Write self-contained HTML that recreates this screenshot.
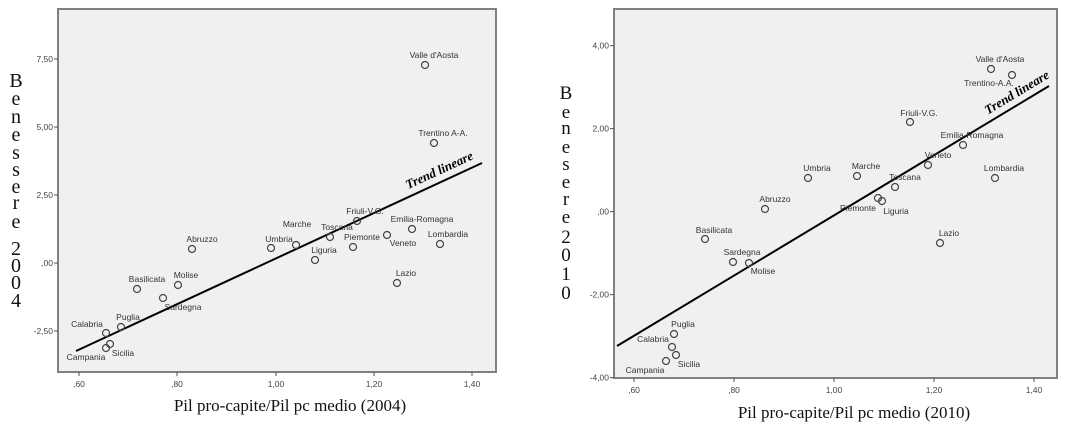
<!DOCTYPE html>
<html><head><meta charset="utf-8"><style>
html,body{margin:0;padding:0;background:#fff;}
svg{display:block;}
.t{font-family:"Liberation Sans",sans-serif;font-size:8.5px;fill:#444;}
.l{font-family:"Liberation Sans",sans-serif;font-size:8.5px;fill:#333;text-anchor:middle;}
.ax{font-family:"Liberation Serif",serif;font-size:17px;fill:#111;text-anchor:middle;}
.yl{font-family:"Liberation Serif",serif;font-size:20px;fill:#111;text-anchor:middle;}
.yr{font-family:"Liberation Serif",serif;font-size:19px;fill:#111;text-anchor:middle;}
.tr{font-family:"Liberation Serif",serif;font-size:13px;font-weight:bold;font-style:italic;fill:#000;text-anchor:middle;}
circle{fill:none;stroke:#444;stroke-width:1.2;}
</style></head><body>
<svg width="1092" height="428" viewBox="0 0 1092 428">
<!-- LEFT -->
<rect x="58" y="9" width="438" height="363" fill="#f0f0f0" stroke="#808080" stroke-width="2"/>
<g stroke="#555" stroke-width="1">
<line x1="54" y1="59" x2="58" y2="59"/><line x1="54" y1="127" x2="58" y2="127"/><line x1="54" y1="195" x2="58" y2="195"/><line x1="54" y1="263" x2="58" y2="263"/><line x1="54" y1="331" x2="58" y2="331"/>
<line x1="79" y1="372" x2="79" y2="376"/><line x1="177" y1="372" x2="177" y2="376"/><line x1="276" y1="372" x2="276" y2="376"/><line x1="374" y1="372" x2="374" y2="376"/><line x1="472" y1="372" x2="472" y2="376"/>
</g>
<g class="t" text-anchor="end">
<text x="53" y="62">7,50</text><text x="53" y="130">5,00</text><text x="53" y="198">2,50</text><text x="53" y="266">,00</text><text x="53" y="334">-2,50</text>
</g>
<g class="t" text-anchor="middle">
<text x="79" y="387">,60</text><text x="177" y="387">,80</text><text x="276" y="387">1,00</text><text x="374" y="387">1,20</text><text x="472" y="387">1,40</text>
</g>
<text class="ax" x="290" y="411">Pil pro-capite/Pil pc medio (2004)</text>
<g class="yl">
<text x="16" y="87">B</text><text x="16" y="105">e</text><text x="16" y="123">n</text><text x="16" y="141">e</text><text x="16" y="159">s</text><text x="16" y="176">s</text><text x="16" y="193">e</text><text x="16" y="209">r</text><text x="16" y="228">e</text><text x="16" y="255">2</text><text x="16" y="272">0</text><text x="16" y="289">0</text><text x="16" y="307">4</text>
</g>
<line x1="76" y1="351" x2="482" y2="163" stroke="#000" stroke-width="2"/>
<text class="tr" transform="translate(441,174) rotate(-24.8)">Trend lineare</text>
<g>
<circle cx="425" cy="65" r="3.5"/><circle cx="434" cy="143" r="3.5"/><circle cx="357" cy="221" r="3.5"/><circle cx="412" cy="229" r="3.5"/><circle cx="330" cy="237" r="3.5"/><circle cx="296" cy="245" r="3.5"/><circle cx="271" cy="248" r="3.5"/><circle cx="353" cy="247" r="3.5"/><circle cx="387" cy="235" r="3.5"/><circle cx="440" cy="244" r="3.5"/><circle cx="315" cy="260" r="3.5"/><circle cx="192" cy="249" r="3.5"/><circle cx="397" cy="283" r="3.5"/><circle cx="137" cy="289" r="3.5"/><circle cx="178" cy="285" r="3.5"/><circle cx="163" cy="298" r="3.5"/><circle cx="121" cy="327" r="3.5"/><circle cx="106" cy="333" r="3.5"/><circle cx="110" cy="344" r="3.5"/><circle cx="106" cy="348" r="3.5"/>
</g>
<g class="l">
<text x="434" y="58">Valle d'Aosta</text><text x="443" y="136">Trentino A-A.</text><text x="365" y="214">Friuli-V.G.</text><text x="422" y="222">Emilia-Romagna</text><text x="337" y="230">Toscana</text><text x="297" y="227">Marche</text><text x="279" y="242">Umbria</text><text x="362" y="240">Piemonte</text><text x="403" y="246">Veneto</text><text x="448" y="237">Lombardia</text><text x="324" y="253">Liguria</text><text x="202" y="242">Abruzzo</text><text x="406" y="276">Lazio</text><text x="147" y="282">Basilicata</text><text x="186" y="278">Molise</text><text x="183" y="310">Sardegna</text><text x="128" y="320">Puglia</text><text x="87" y="327">Calabria</text><text x="123" y="356">Sicilia</text><text x="86" y="360">Campania</text>
</g>
<!-- RIGHT -->
<rect x="614" y="9" width="443" height="369" fill="#f0f0f0" stroke="#808080" stroke-width="2"/>
<g stroke="#555" stroke-width="1">
<line x1="610" y1="45.6" x2="614" y2="45.6"/><line x1="610" y1="128.6" x2="614" y2="128.6"/><line x1="610" y1="211.6" x2="614" y2="211.6"/><line x1="610" y1="294.6" x2="614" y2="294.6"/><line x1="610" y1="377.6" x2="614" y2="377.6"/>
<line x1="634" y1="378" x2="634" y2="382"/><line x1="734" y1="378" x2="734" y2="382"/><line x1="834" y1="378" x2="834" y2="382"/><line x1="934" y1="378" x2="934" y2="382"/><line x1="1034" y1="378" x2="1034" y2="382"/>
</g>
<g class="t" text-anchor="end">
<text x="609" y="48.6">4,00</text><text x="609" y="131.6">2,00</text><text x="609" y="214.6">,00</text><text x="609" y="297.6">-2,00</text><text x="609" y="380.6">-4,00</text>
</g>
<g class="t" text-anchor="middle">
<text x="634" y="393">,60</text><text x="734" y="393">,80</text><text x="834" y="393">1,00</text><text x="934" y="393">1,20</text><text x="1034" y="393">1,40</text>
</g>
<text class="ax" x="854" y="418">Pil pro-capite/Pil pc medio (2010)</text>
<g class="yr">
<text x="566" y="99">B</text><text x="566" y="118">e</text><text x="566" y="134">n</text><text x="566" y="153">e</text><text x="566" y="170">s</text><text x="566" y="188">e</text><text x="566" y="205">r</text><text x="566" y="223">e</text><text x="566" y="243">2</text><text x="566" y="261">0</text><text x="566" y="280">1</text><text x="566" y="299">0</text>
</g>
<line x1="617" y1="346" x2="1049" y2="86" stroke="#000" stroke-width="2"/>
<text class="tr" transform="translate(1019,96) rotate(-31)">Trend lineare</text>
<g>
<circle cx="991" cy="69" r="3.5"/><circle cx="1012" cy="75" r="3.5"/><circle cx="910" cy="122" r="3.5"/><circle cx="963" cy="145" r="3.5"/><circle cx="928" cy="165" r="3.5"/><circle cx="995" cy="178" r="3.5"/><circle cx="808" cy="178" r="3.5"/><circle cx="857" cy="176" r="3.5"/><circle cx="895" cy="187" r="3.5"/><circle cx="878" cy="198" r="3.5"/><circle cx="882" cy="201" r="3.5"/><circle cx="765" cy="209" r="3.5"/><circle cx="705" cy="239" r="3.5"/><circle cx="940" cy="243" r="3.5"/><circle cx="733" cy="262" r="3.5"/><circle cx="749" cy="263" r="3.5"/><circle cx="674" cy="334" r="3.5"/><circle cx="672" cy="347" r="3.5"/><circle cx="676" cy="355" r="3.5"/><circle cx="666" cy="361" r="3.5"/>
</g>
<g class="l">
<text x="1000" y="62">Valle d'Aosta</text><text x="989" y="86">Trentino-A.A.</text><text x="919" y="116">Friuli-V.G.</text><text x="972" y="138">Emilia-Romagna</text><text x="938" y="158">Veneto</text><text x="1004" y="171">Lombardia</text><text x="817" y="171">Umbria</text><text x="866" y="169">Marche</text><text x="905" y="180">Toscana</text><text x="858" y="211">Piemonte</text><text x="896" y="214">Liguria</text><text x="775" y="202">Abruzzo</text><text x="714" y="233">Basilicata</text><text x="949" y="236">Lazio</text><text x="742" y="255">Sardegna</text><text x="763" y="274">Molise</text><text x="683" y="327">Puglia</text><text x="653" y="342">Calabria</text><text x="689" y="367">Sicilia</text><text x="645" y="373">Campania</text>
</g>
</svg>
</body></html>
